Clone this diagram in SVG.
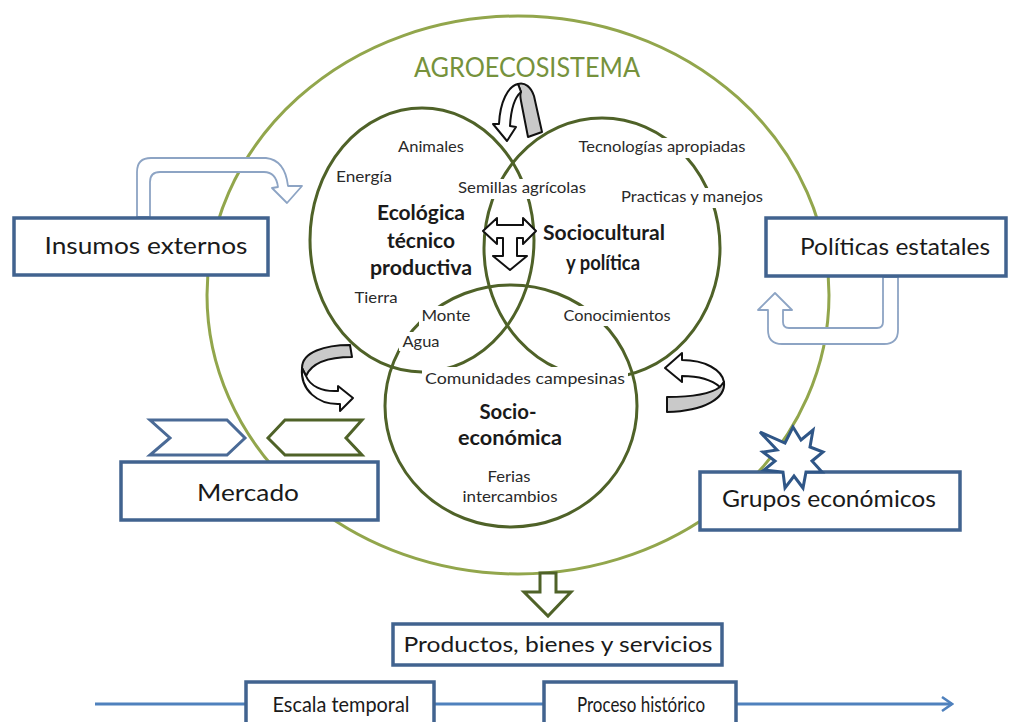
<svg xmlns="http://www.w3.org/2000/svg" width="1012" height="722" viewBox="0 0 1012 722">
<defs>
<style>
.bg{fill:#ffffff}
.big{fill:none;stroke:#92A64C;stroke-width:3}
.inner{fill:none;stroke:#4F6228;stroke-width:3}
.box{fill:#ffffff;stroke:#41638F;stroke-width:3.5}
.lbg{fill:#ffffff}
.t{font-family:Lato,"Liberation Sans",sans-serif;fill:#1a1a1a}
.lg{font-size:23px}
.sm{font-size:15px;fill:#2a2a2a}
.bd{font-size:20px;font-weight:bold}
.title{font-family:Lato,"Liberation Sans",sans-serif;font-size:27px;fill:#76923C}
.uarrow{fill:#ffffff;stroke:#8DA4C4;stroke-width:1.8;stroke-linejoin:round}
.cw{fill:#ffffff;stroke:#111;stroke-width:2;stroke-linejoin:round}
.cg{fill:#C9C9C9;stroke:#111;stroke-width:2;stroke-linejoin:round}
.olive{fill:#ffffff;stroke:#4F6228;stroke-width:3;stroke-linejoin:miter}
.chevb{fill:#ffffff;stroke:#4A6A96;stroke-width:3}
.star{fill:#ffffff;stroke:#2F5687;stroke-width:3;stroke-linejoin:miter}
.tl{fill:none;stroke:#4F81BD;stroke-width:3}
</style>
<marker id="openArrow" viewBox="0 0 14 16" refX="12" refY="8" markerWidth="14" markerHeight="16" markerUnits="userSpaceOnUse" orient="auto">
<polyline points="2,1 12,8 2,15" fill="none" stroke="#4F81BD" stroke-width="2.5"/>
</marker>
</defs>
<rect class="bg" x="0" y="0" width="1012" height="722"/>

<g id="agroecosistema">
<ellipse class="big" cx="518" cy="295" rx="311" ry="279"/>
<text class="title" x="527" y="77" text-anchor="middle" textLength="226" lengthAdjust="spacingAndGlyphs">AGROECOSISTEMA</text>
</g>

<g id="circles">
<ellipse id="ecologica-circle" class="inner" cx="422" cy="240" rx="112" ry="132"/>
<ellipse id="sociocultural-circle" class="inner" cx="602" cy="248" rx="118" ry="130"/>
<ellipse id="socioeconomica-circle" class="inner" cx="511" cy="406" rx="126" ry="121"/>
</g>

<g id="ecologica">
<text class="t bd" x="421" y="220" text-anchor="middle" textLength="88" lengthAdjust="spacingAndGlyphs">Ecológica</text>
<text class="t bd" x="421" y="248" text-anchor="middle" textLength="68" lengthAdjust="spacingAndGlyphs">técnico</text>
<text class="t bd" x="421" y="275" text-anchor="middle" textLength="102" lengthAdjust="spacingAndGlyphs">productiva</text>
<text class="t sm" x="431" y="152" text-anchor="middle" textLength="66" lengthAdjust="spacingAndGlyphs">Animales</text>
<text class="t sm" x="364" y="182" text-anchor="middle" textLength="56" lengthAdjust="spacingAndGlyphs">Energía</text>
<text class="t sm" x="376" y="303" text-anchor="middle" textLength="43" lengthAdjust="spacingAndGlyphs">Tierra</text>
<rect class="lbg" x="419" y="306" width="55" height="20"/>
<text class="t sm" x="446" y="321" text-anchor="middle" textLength="49" lengthAdjust="spacingAndGlyphs">Monte</text>
<rect class="lbg" x="399" y="332" width="45" height="19"/>
<text class="t sm" x="421" y="347" text-anchor="middle" textLength="37" lengthAdjust="spacingAndGlyphs">Agua</text>
</g>

<g id="sociocultural">
<text class="t bd" x="604" y="240" text-anchor="middle" textLength="122" lengthAdjust="spacingAndGlyphs">Sociocultural</text>
<text class="t bd" x="603" y="270" text-anchor="middle" textLength="74" lengthAdjust="spacingAndGlyphs">y política</text>
<rect class="lbg" x="455" y="179" width="134" height="20"/>
<text class="t sm" x="522" y="193" text-anchor="middle" textLength="128" lengthAdjust="spacingAndGlyphs">Semillas agrícolas</text>
<rect class="lbg" x="576" y="138" width="173" height="20"/>
<text class="t sm" x="662" y="152" text-anchor="middle" textLength="167" lengthAdjust="spacingAndGlyphs">Tecnologías apropiadas</text>
<rect class="lbg" x="618" y="188" width="148" height="20"/>
<text class="t sm" x="692" y="202" text-anchor="middle" textLength="142" lengthAdjust="spacingAndGlyphs">Practicas y manejos</text>
<rect class="lbg" x="560" y="306" width="114" height="20"/>
<text class="t sm" x="617" y="321" text-anchor="middle" textLength="107" lengthAdjust="spacingAndGlyphs">Conocimientos</text>
</g>

<g id="socioeconomica">
<rect class="lbg" x="422" y="367" width="206" height="22"/>
<text class="t sm" x="525" y="384" text-anchor="middle" textLength="200" lengthAdjust="spacingAndGlyphs">Comunidades campesinas</text>
<text class="t bd" x="508" y="419" text-anchor="middle" textLength="57" lengthAdjust="spacingAndGlyphs">Socio-</text>
<text class="t bd" x="510" y="445" text-anchor="middle" textLength="104" lengthAdjust="spacingAndGlyphs">económica</text>
<text class="t sm" x="509" y="482" text-anchor="middle" textLength="43" lengthAdjust="spacingAndGlyphs">Ferias</text>
<text class="t sm" x="510" y="502" text-anchor="middle" textLength="95" lengthAdjust="spacingAndGlyphs">intercambios</text>
</g>

<g id="connectors">
<line class="tl" x1="95" y1="704" x2="952" y2="704" marker-end="url(#openArrow)"/>
<path class="uarrow" d="M137,217 L137,172 Q137,158 151,158 L266,158 Q285,160 288,186 L302,186 L287,203 L272,188 L278,187 Q276,172 264,172 L160,172 Q150,172 150,182 L150,217 Z"/>
<path class="uarrow" d="M898,277 L898,330 Q898,344 884,344 L782,344 Q768,344 768,330 L768,310 L758,310 L775,293 L792,310 L783,310 L783,322 Q783,328 789,328 L877,328 Q883,328 883,322 L883,277 Z"/>
<path class="cg" d="M518,84 C525,82 531,87 534,96 L542,132 L528,137 L521,101 C520,96 520,94 521,92 Z"/>
<path class="cw" d="M518,84 C508,86 500,102 499,124 L493,124 L507,141 L516,127 L510,126 C511,108 514,98 521,92 Z"/>
<path class="cg" d="M350,345 C325,345 302,352 302,368 L306,376 C312,362 330,357 352,357 Z"/>
<path class="cw" d="M302,368 C300,390 318,405 340,404 L340,411 L353,398 L338,386 L338,391 C322,392 310,386 306,376 Z"/>
<path class="cw" d="M682,353 L665,368 L682,382 L682,376 C698,376 712,380 720,387 L724,382 C722,370 705,360 682,360 Z"/>
<path class="cg" d="M724,382 C726,398 705,411 667,412 L667,397 C695,397 712,393 720,387 Z"/>
<path class="cw" d="M483,231 L497,218 L497,225 L523,225 L523,218 L536,231 L523,244 L523,238 L517,238 L517,256 L527,256 L510,270 L493,256 L503,256 L503,238 L497,238 L497,244 Z"/>
<path class="olive" d="M540,573 L556,573 L556,592 L571,592 L548,616 L524,592 L540,592 Z"/>
<path class="chevb" d="M150,420 L227,420 L245,438 L227,455 L150,455 L170,438 Z"/>
<path class="olive" d="M268,438 L285,420 L362,420 L346,438 L362,455 L285,455 Z"/>
</g>

<g id="insumos">
<rect class="box" x="14" y="218" width="254" height="57"/>
<text class="t lg" x="146" y="254" text-anchor="middle" textLength="203" lengthAdjust="spacingAndGlyphs">Insumos externos</text>
</g>

<g id="politicas">
<rect class="box" x="766" y="218" width="240" height="58"/>
<text class="t lg" x="895" y="255" text-anchor="middle" textLength="190" lengthAdjust="spacingAndGlyphs">Políticas estatales</text>
</g>

<g id="mercado">
<rect class="box" x="121" y="462" width="257" height="58"/>
<text class="t lg" x="248" y="501" text-anchor="middle" textLength="102" lengthAdjust="spacingAndGlyphs">Mercado</text>
</g>

<g id="grupos">
<rect class="box" x="700" y="472" width="260" height="58"/>
<text class="t lg" x="829" y="507" text-anchor="middle" textLength="214" lengthAdjust="spacingAndGlyphs">Grupos económicos</text>
<path class="star" d="M760,432 L785,443 L793,427 L801,440 L813,430 L810,447 L823,452 L812,461 L822,472 L806,472 L803,488 L794,476 L785,488 L783,472 L764,470 L775,461 L763,452 L777,450 Z"/>
</g>

<g id="productos">
<rect class="box" x="393" y="624" width="329" height="41"/>
<text class="t" font-size="22" x="558" y="652" text-anchor="middle" textLength="309" lengthAdjust="spacingAndGlyphs">Productos, bienes y servicios</text>
</g>

<g id="escala">
<rect class="box" x="246" y="682" width="188" height="46"/>
<text class="t" font-size="21" x="341" y="712" text-anchor="middle" textLength="137" lengthAdjust="spacingAndGlyphs">Escala temporal</text>
</g>

<g id="proceso">
<rect class="box" x="544" y="682" width="192" height="46"/>
<text class="t" font-size="21" x="641" y="712" text-anchor="middle" textLength="128" lengthAdjust="spacingAndGlyphs">Proceso histórico</text>
</g>
</svg>
